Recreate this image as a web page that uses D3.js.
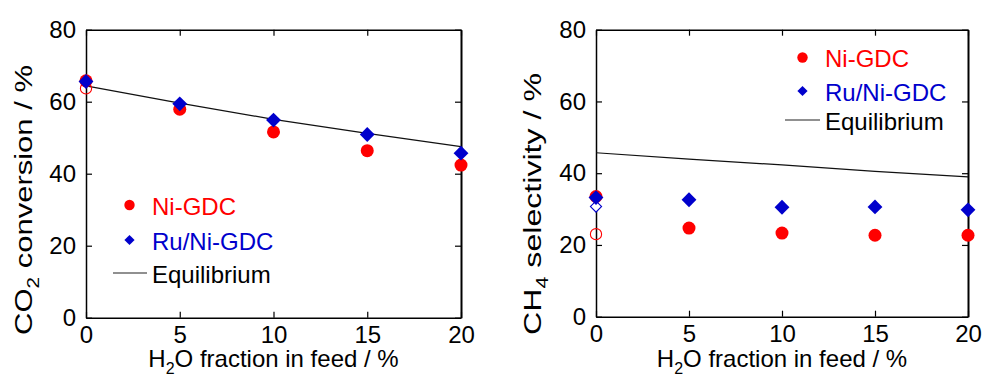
<!DOCTYPE html>
<html>
<head>
<meta charset="utf-8">
<style>
body { margin: 0; background: #fff; }
svg { font-family: "Liberation Sans", Arial, sans-serif; }
.frame path.domain { stroke: #000; stroke-width: 1.5; }
.frame line { stroke: #000; stroke-width: 1.2; }
.frame text { font-size: 24px; fill: #000; }
</style>
</head>
<body>
<svg width="983" height="378"></svg>
<script src="https://d3js.org/d3.v7.min.js"></script>
<script>
// values
var feedH2O = [0, 5, 10, 15, 20];
var xTicks = [0, 5, 10, 15, 20];
var yTicks = [0, 20, 40, 60, 80];

var convNi = [65.8, 57.9, 51.6, 46.4, 42.4];
var convRuNi = [65.6, 59.4, 54.9, 50.9, 45.7];
var convEq = [64.4, 59.6, 55.1, 51.2, 47.5];
var convNiOpen = [63.7];      // at 0 % H2O
var convRuNiOpen = [];

var selNi = [33.5, 24.7, 23.3, 22.7, 22.7];
var selRuNi = [33.2, 32.6, 30.5, 30.6, 29.8];
var selEq = [45.7, 43.9, 42.3, 40.5, 39.0];
var selNiOpen = [23.0];
var selRuNiOpen = [30.7];

var legendNames = ["Ni-GDC", "Ru/Ni-GDC", "Equilibrium"];

var red = "#ff0000", blue = "#0000cc";
var svg = d3.select("svg");

var diamond = function(size) { return d3.symbol(d3.symbolSquare, size)(); };

function panel(p) {
  var x = d3.scaleLinear().domain([0, 20]).range([p.left, p.right]);
  var y = d3.scaleLinear().domain([0, 80]).range([p.bottom, p.top]);
  var g = svg.append("g");

  // box with inward ticks on all four sides
  g.append("g").attr("class", "frame")
    .attr("transform", "translate(0," + p.bottom + ")")
    .call(d3.axisBottom(x).tickValues(xTicks).tickSizeInner(-6).tickSizeOuter(0).tickPadding(8));
  g.append("g").attr("class", "frame")
    .attr("transform", "translate(0," + p.top + ")")
    .call(d3.axisTop(x).tickValues(xTicks).tickFormat("").tickSizeInner(-6).tickSizeOuter(0));
  g.append("g").attr("class", "frame")
    .attr("transform", "translate(" + p.left + ",0)")
    .call(d3.axisLeft(y).tickValues(yTicks).tickSizeInner(-6).tickSizeOuter(0).tickPadding(10));
  var ra = g.append("g").attr("class", "frame")
    .attr("transform", "translate(" + p.right + ",0)")
    .call(d3.axisRight(y).tickValues(yTicks).tickFormat("").tickSizeInner(-6).tickSizeOuter(0));
  ra.select("path.domain").style("stroke-width", 2);

  // equilibrium line
  g.append("path")
    .datum(feedH2O.map(function(f, i) { return [f, p.eq[i]]; }))
    .attr("fill", "none").attr("stroke", "#111").attr("stroke-width", 1.2)
    .attr("d", d3.line().x(function(d) { return x(d[0]); }).y(function(d) { return y(d[1]); }));

  // open markers at 0 %
  g.selectAll(".oc").data(p.niOpen).enter().append("circle")
    .attr("cx", x(0)).attr("cy", function(d) { return y(d); }).attr("r", 5.6)
    .attr("fill", "none").attr("stroke", red).attr("stroke-width", 1.1);
  g.selectAll(".od").data(p.ruOpen).enter().append("path")
    .attr("d", diamond(62))
    .attr("transform", function(d) { return "translate(" + x(0) + "," + y(d) + ") rotate(45)"; })
    .attr("fill", "#fff").attr("stroke", blue).attr("stroke-width", 1.1);

  // filled markers
  g.selectAll(".ni").data(p.ni).enter().append("circle")
    .attr("cx", function(d, i) { return x(feedH2O[i]); })
    .attr("cy", function(d) { return y(d); })
    .attr("r", 6.5).attr("fill", red);
  g.selectAll(".ru").data(p.ru).enter().append("path")
    .attr("d", diamond(110))
    .attr("transform", function(d, i) { return "translate(" + x(feedH2O[i]) + "," + y(d) + ") rotate(45)"; })
    .attr("fill", blue);

  // axis titles
  var xt = g.append("text").attr("x", (p.left + p.right) / 2).attr("y", 367)
    .attr("text-anchor", "middle").style("font-size", "24px");
  xt.append("tspan").text("H");
  xt.append("tspan").attr("dy", 7).style("font-size", "16px").text("2");
  xt.append("tspan").attr("dy", -7).text("O fraction in feed / %");

  var yt = g.append("text").attr("text-anchor", "middle").style("font-size", "24px")
    .attr("transform", "translate(" + p.titleX + "," + p.titleY + ") rotate(-90)");
  yt.append("tspan").text(p.yName[0]);
  yt.append("tspan").attr("dy", 7).style("font-size", "16px").text(p.yName[1]);
  yt.append("tspan").attr("dy", -7).text(p.yName[2]);
  var w = yt.node().getBBox().width;
  yt.attr("transform", "translate(" + p.titleX + "," + p.titleY + ") rotate(-90) scale(" + (p.titleLen / w) + ",1)");

  // legend
  var L = p.legend;
  g.append("circle").attr("cx", L.mx).attr("cy", L.y[0]).attr("r", 5.2).attr("fill", red);
  g.append("path").attr("d", diamond(52))
    .attr("transform", "translate(" + L.mx + "," + L.y[1] + ") rotate(45)").attr("fill", blue);
  g.append("line").attr("x1", L.lx[0]).attr("x2", L.lx[1]).attr("y1", L.y[2]).attr("y2", L.y[2])
    .attr("stroke", "#222").attr("stroke-width", 1.1);
  var colors = [red, blue, "#000"];
  legendNames.forEach(function(n, i) {
    g.append("text").attr("x", L.tx).attr("y", L.y[i] + 9.5)
      .style("font-size", "24px").attr("fill", colors[i]).text(n);
  });
}

panel({
  left: 86, right: 461, top: 29.7, bottom: 317.7,
  ni: convNi, ru: convRuNi, eq: convEq, niOpen: convNiOpen, ruOpen: convRuNiOpen,
  yName: ["CO", "2", " conversion / %"], titleX: 32, titleY: 200, titleLen: 270,
  legend: { mx: 129.5, tx: 152, lx: [113, 147], y: [205, 240, 273] }
});

panel({
  left: 596, right: 968, top: 29.7, bottom: 316.7,
  ni: selNi, ru: selRuNi, eq: selEq, niOpen: selNiOpen, ruOpen: selRuNiOpen,
  yName: ["CH", "4", " selectivity / %"], titleX: 541, titleY: 204, titleLen: 262,
  legend: { mx: 802.5, tx: 825, lx: [785, 820], y: [57.5, 91, 120] }
});
</script>
</body>
</html>
